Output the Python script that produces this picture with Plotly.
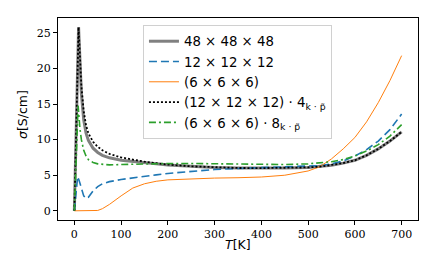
import plotly.graph_objects as go

# temperatures (K)
T_48 = [0, 4, 9, 15, 20, 25, 30, 40, 50, 60, 75, 100, 125, 150, 175, 200, 250, 300, 350, 400, 450, 500, 525, 550, 575, 600, 625, 650, 675, 700]
s_48 = [0, 12, 25.8, 16.5, 12.8, 10.9, 9.9, 8.8, 8.2, 7.8, 7.45, 7.1, 6.9, 6.72, 6.6, 6.45, 6.25, 6.1, 6.02, 6.0, 6.0, 6.1, 6.2, 6.4, 6.7, 7.1, 7.8, 8.7, 9.8, 11.1]

T_12 = [0, 4, 7, 10, 15, 20, 25, 30, 40, 50, 60, 75, 100, 125, 150, 175, 200, 250, 300, 350, 400, 450, 500, 525, 550, 575, 600, 625, 650, 675, 700]
s_12 = [0, 3.5, 4.8, 4.3, 3.0, 2.1, 1.75, 1.9, 2.8, 3.4, 3.8, 4.1, 4.4, 4.65, 4.85, 5.05, 5.25, 5.55, 5.8, 5.95, 6.05, 6.1, 6.2, 6.35, 6.6, 7.0, 7.7, 8.6, 9.8, 11.4, 13.6]

T_6 = [0, 25, 50, 60, 75, 100, 125, 150, 175, 200, 250, 300, 350, 400, 450, 500, 525, 550, 575, 600, 625, 650, 675, 700]
s_6 = [0, 0, 0.05, 0.3, 0.9, 2.1, 3.2, 3.8, 4.15, 4.35, 4.5, 4.6, 4.65, 4.75, 5.0, 5.6, 6.2, 7.3, 8.7, 10.3, 12.5, 15.2, 18.3, 21.8]

T_12kp = [0, 4, 9, 15, 20, 25, 30, 40, 50, 60, 75, 100, 125, 150, 175, 200, 250, 300, 350, 400, 450, 500, 525, 550, 575, 600, 625, 650, 675, 700]
s_12kp = [0, 12, 25.8, 17.5, 14.0, 12.0, 10.9, 9.7, 9.0, 8.5, 8.0, 7.5, 7.15, 6.9, 6.7, 6.5, 6.25, 6.1, 6.02, 6.0, 6.0, 6.1, 6.2, 6.4, 6.7, 7.1, 7.8, 8.7, 9.8, 11.1]

T_6kp = [0, 4, 8, 12, 15, 20, 25, 30, 40, 50, 60, 75, 100, 150, 200, 250, 300, 350, 400, 450, 500, 525, 550, 575, 600, 625, 650, 675, 700]
s_6kp = [0, 8, 14.8, 11.5, 10.0, 8.5, 7.7, 7.2, 6.8, 6.6, 6.5, 6.45, 6.5, 6.6, 6.65, 6.65, 6.6, 6.55, 6.5, 6.5, 6.6, 6.7, 6.9, 7.2, 7.7, 8.4, 9.3, 10.5, 12.1]

x_ticks = [0, 100, 200, 300, 400, 500, 600, 700]
y_ticks = [0, 5, 10, 15, 20, 25]

names = [
    "48 × 48 × 48",
    "12 × 12 × 12",
    "(6 × 6 × 6)",
    "(12 × 12 × 12) · 4<sub>k · p̃</sub>",
    "(6 × 6 × 6) · 8<sub>k · p̃</sub>",
]

fig = go.Figure()
fig.add_trace(go.Scatter(x=T_48, y=s_48, mode="lines", name=names[0],
                         line=dict(color="rgb(128,128,128)", width=3)))
fig.add_trace(go.Scatter(x=T_12, y=s_12, mode="lines", name=names[1],
                         line=dict(color="#1f77b4", width=1.6, dash="8px,4px")))
fig.add_trace(go.Scatter(x=T_6, y=s_6, mode="lines", name=names[2],
                         line=dict(color="#ff7f0e", width=1)))
fig.add_trace(go.Scatter(x=T_12kp, y=s_12kp, mode="lines", name=names[3],
                         line=dict(color="black", width=1.8, dash="2px,2px")))
fig.add_trace(go.Scatter(x=T_6kp, y=s_6kp, mode="lines", name=names[4],
                         line=dict(color="#2ca02c", width=1.6, dash="7px,3px,2px,3px")))

axis_common = dict(
    showline=True, linecolor="black", linewidth=1.2, mirror=True,
    ticks="outside", ticklen=4, tickwidth=1, tickcolor="black",
    showgrid=False, zeroline=False, automargin=False,
    tickfont=dict(family="DejaVu Serif", size=11, color="black"),
)

fig.update_layout(
    width=436, height=273,
    margin=dict(l=50, r=26, t=10, b=61),
    paper_bgcolor="white", plot_bgcolor="white",
    font=dict(family="DejaVu Sans", color="black"),
    xaxis=dict(range=[-35, 735], tickvals=x_ticks, **axis_common),
    yaxis=dict(range=[-1.29, 27.09], tickvals=y_ticks, **axis_common),
    legend=dict(x=0.236, y=0.965, xanchor="left", yanchor="top",
                bgcolor="white", bordercolor="#d0d0d0", borderwidth=1,
                font=dict(family="DejaVu Sans", size=13.3),
                itemwidth=30, tracegroupgap=0),
    showlegend=True,
    annotations=[
        dict(text="<i>T</i>[K]", xref="paper", yref="paper", x=0.5, y=-0.119,
             xanchor="center", yanchor="middle", showarrow=False,
             font=dict(family="DejaVu Sans", size=12.5, color="black")),
        dict(text="<i>σ</i>[S/cm]", xref="paper", yref="paper", x=-0.097, y=0.52,
             xanchor="center", yanchor="middle", showarrow=False, textangle=-90,
             font=dict(family="DejaVu Sans", size=12.5, color="black")),
    ],
)

fig.write_html("out.html")
